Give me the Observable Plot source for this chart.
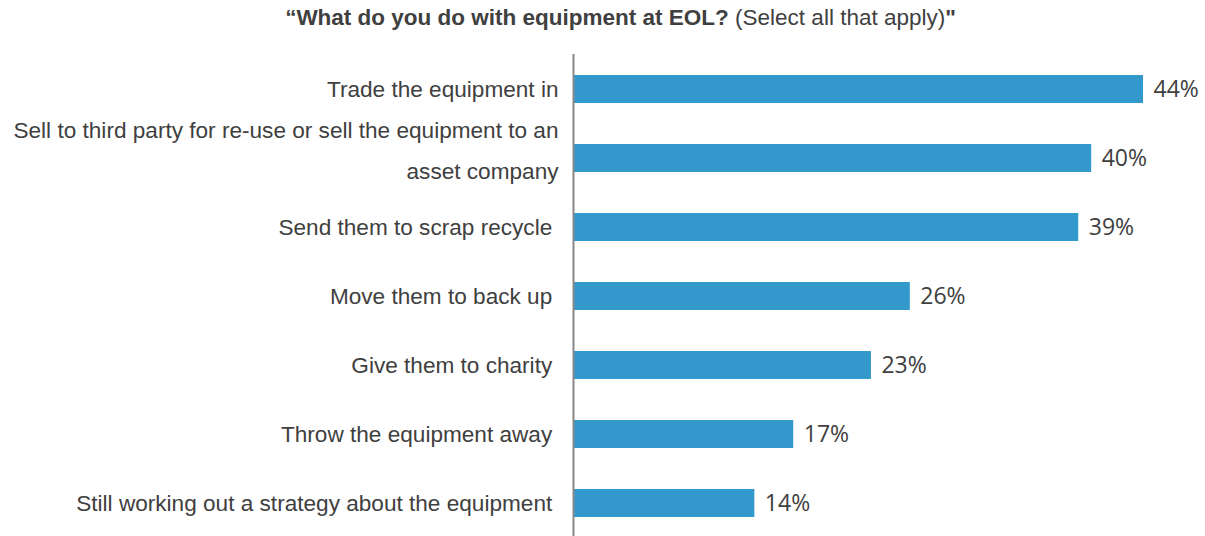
<!DOCTYPE html>
<html>
<head>
<meta charset="utf-8">
<script src="https://cdn.jsdelivr.net/npm/d3@7"></script>
<script src="https://cdn.jsdelivr.net/npm/@observablehq/plot@0.6"></script>
<style>
  html, body { margin: 0; padding: 0; background: #fff; }
  #title { height: 46px; box-sizing: border-box; padding-top: 5px; text-align: center; font-family: "Liberation Sans", Arial, sans-serif; font-size: 22.5px; color: #404040; padding-left: 36px; white-space: nowrap; }
  #title b { font-weight: bold; }
  svg text { white-space: pre; }
</style>
</head>
<body>
<div id="title"><b>“What do you do with equipment at EOL?</b> (Select all that apply)<b>"</b></div>
<div id="chart"></div>
<script>
const categories = [
  "Trade the equipment in",
  "Sell to third party for re-use or sell the equipment to an\nasset company",
  "Send them to scrap recycle ",
  "Move them to back up ",
  "Give them to charity ",
  "Throw the equipment away ",
  "Still working out a strategy about the equipment "
];
const values = [44, 40, 39, 26, 23, 17, 14];
const valueLabels = ["44%", "40%", "39%", "26%", "23%", "17%", "14%"];

const data = categories.map((c, i) => ({category: c, value: values[i], label: valueLabels[i], multi: c.includes("\n")}));

const chart = Plot.plot({
  width: 1205,
  height: 490,
  marginTop: 8,
  marginBottom: 0,
  marginLeft: 573,
  marginRight: 62,
  style: {fontFamily: "'Liberation Sans', Arial, sans-serif", background: "#fff"},
  x: {domain: [0, 44], range: [573, 1143], axis: null},
  y: {domain: categories, range: [14.3, 484.6], paddingInner: 0.6, paddingOuter: 0.2, axis: null},
  marks: [
    Plot.barX(data, {x: "value", y: "category", fill: "#3399cc"}),
    Plot.ruleX([0], {stroke: "#888888", strokeWidth: 2}),
    Plot.text(data.filter(d => !d.multi), {x: 0, y: "category", text: "category", textAnchor: "end", dx: -15, fontSize: 22.6, fill: "#404040"}),
    Plot.text(data.filter(d => d.multi), {x: 0, y: "category", text: "category", textAnchor: "end", dx: -15, dy: -13, lineHeight: 1.8, fontSize: 22.6, fill: "#404040"}),
    Plot.text(data, {x: "value", y: "category", text: "label", textAnchor: "start", dx: 10, fontSize: 23, fill: "#404040", fontFamily: "'Open Sans', sans-serif"})
  ]
});
document.getElementById("chart").appendChild(chart);
</script>
</body>
</html>
